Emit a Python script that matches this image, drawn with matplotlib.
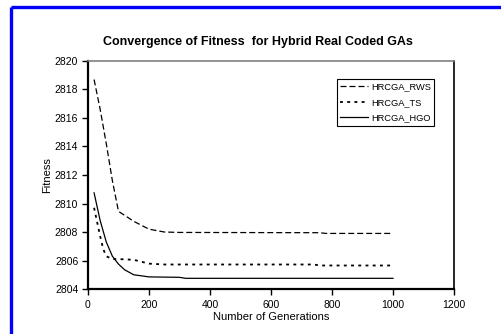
import matplotlib.pyplot as plt
from matplotlib.lines import Line2D

plt.rcParams['font.family'] = ['Liberation Sans', 'DejaVu Sans']

# values
rws_gen = [20, 40, 60, 80, 100, 150, 200, 250, 300, 760, 780, 1000]
rws_fit = [2818.7, 2816.6, 2814.2, 2811.6, 2809.45, 2808.75, 2808.2, 2808.0,
           2807.97, 2807.95, 2807.9, 2807.9]

ts_gen = [20, 30, 40, 50, 60, 80, 100, 150, 200, 250, 740, 760, 1000]
ts_fit = [2809.7, 2808.7, 2807.7, 2806.8, 2806.3, 2806.1, 2806.1, 2806.05,
          2805.78, 2805.72, 2805.72, 2805.65, 2805.65]

hgo_gen = [20, 40, 60, 80, 100, 120, 150, 200, 300, 320, 1000]
hgo_fit = [2810.75, 2808.8, 2807.3, 2806.3, 2805.75, 2805.35, 2805.0, 2804.85,
           2804.82, 2804.75, 2804.75]

xticks = [0, 200, 400, 600, 800, 1000, 1200]
yticks = [2804, 2806, 2808, 2810, 2812, 2814, 2816, 2818, 2820]

fig = plt.figure(figsize=(5.01, 3.34), dpi=100)
ax = fig.add_axes([0.1756, 0.1347, 0.7306, 0.6827])

ax.plot(rws_gen, rws_fit, color='black', lw=0.9, dashes=(4.8, 2.4), label='HRCGA_RWS')
ax.plot(ts_gen, ts_fit, color='black', lw=1.3, dashes=(1.6, 2.4), label='HRCGA_TS')
ax.plot(hgo_gen, hgo_fit, color='black', lw=0.9, label='HRCGA_HGO')

ax.set_xlim(0, 1200)
ax.set_ylim(2804, 2820)
ax.set_xticks(xticks)
ax.set_yticks(yticks)
ax.tick_params(labelsize=7.5, length=4, width=1, direction='out', pad=3)
ax.tick_params(axis='x', pad=4)

for s in ['left', 'bottom']:
    ax.spines[s].set_linewidth(1.6)
ax.spines['top'].set_color('#808080')
ax.spines['top'].set_linewidth(1.2)
ax.spines['right'].set_linewidth(1.2)

ax.set_xlabel('Number of Generations', fontsize=8, labelpad=1)
ax.set_ylabel('Fitness', fontsize=8, labelpad=2)
fig.text(0.515, 0.873, 'Convergence of Fitness  for Hybrid Real Coded GAs',
         ha='center', va='center', fontsize=9, fontweight='bold')

leg = ax.legend(loc='upper left', bbox_to_anchor=(0.68, 0.921), fontsize=6.7,
                fancybox=False, framealpha=1, edgecolor='black',
                handlelength=3.0, handletextpad=0.3, labelspacing=0.7,
                borderpad=0.35, borderaxespad=0)
leg.get_frame().set_linewidth(0.8)

# blue frame around the chart (only left and top edges are in view)
fig.add_artist(Line2D([0.021, 0.021], [0, 0.978], color='#0000ff', lw=2.4,
                      transform=fig.transFigure, solid_capstyle='butt'))
fig.add_artist(Line2D([0.021, 1], [0.978, 0.978], color='#0000ff', lw=2.4,
                      transform=fig.transFigure, solid_capstyle='butt'))

fig.savefig('out.png', dpi=100)
